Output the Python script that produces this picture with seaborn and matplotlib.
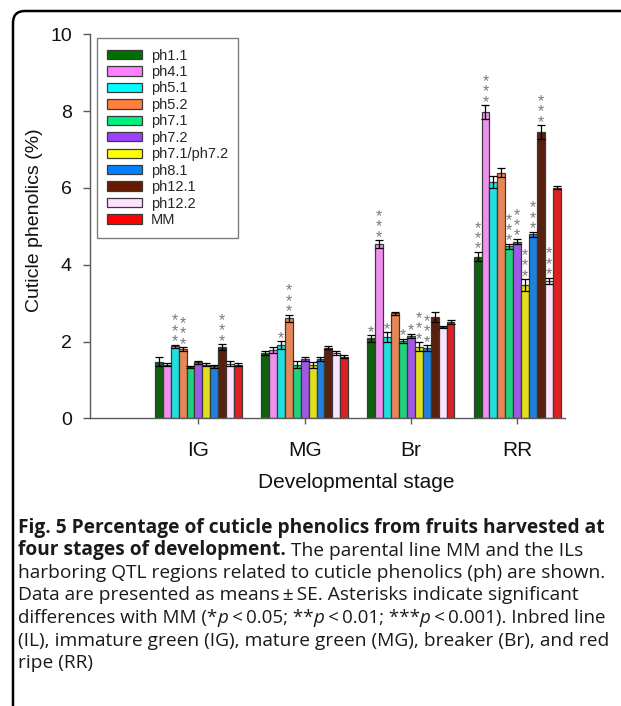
import numpy as np
import pandas as pd
import matplotlib
matplotlib.use("Agg")
import matplotlib.pyplot as plt
import seaborn as sns
from matplotlib.patches import FancyBboxPatch, Patch
from matplotlib.transforms import IdentityTransform

# ---------------- data ----------------
stages = ["IG", "MG", "Br", "RR"]
lines = ["ph1.1", "ph4.1", "ph5.1", "ph5.2", "ph7.1", "ph7.2",
         "ph7.1/ph7.2", "ph8.1", "ph12.1", "ph12.2", "MM"]
colors = ["#007000", "#FF80FF", "#00FFFF", "#FF7F3F", "#00F080", "#A040FF",
          "#FFFF00", "#0080FF", "#661A00", "#FFE0FF", "#FF0000"]

vals_IG = [1.47, 1.40, 1.88, 1.80, 1.33, 1.46, 1.40, 1.36, 1.85, 1.42, 1.39]
vals_MG = [1.69, 1.78, 1.91, 2.60, 1.40, 1.54, 1.39, 1.54, 1.84, 1.69, 1.60]
vals_Br = [2.08, 4.54, 2.12, 2.73, 2.02, 2.15, 1.86, 1.82, 2.63, 2.37, 2.50]
vals_RR = [4.21, 7.97, 6.15, 6.40, 4.48, 4.60, 3.47, 4.79, 7.45, 3.58, 6.01]

err_IG = [0.12, 0.05, 0.04, 0.05, 0.03, 0.04, 0.03, 0.04, 0.08, 0.06, 0.04]
err_MG = [0.05, 0.07, 0.10, 0.10, 0.08, 0.05, 0.07, 0.05, 0.04, 0.05, 0.04]
err_Br = [0.08, 0.10, 0.12, 0.03, 0.05, 0.05, 0.12, 0.08, 0.13, 0.03, 0.05]
err_RR = [0.12, 0.18, 0.15, 0.12, 0.06, 0.07, 0.15, 0.07, 0.18, 0.08, 0.04]

sig_IG = ["", "", "***", "***", "", "", "", "", "***", "", ""]
sig_MG = ["", "", "*", "***", "", "", "", "", "", "", ""]
sig_Br = ["*", "***", "*", "", "*", "*", "***", "***", "", "", ""]
sig_RR = ["***", "***", "", "", "***", "***", "***", "***", "***", "***", ""]

values = [vals_IG, vals_MG, vals_Br, vals_RR]
errors = [err_IG, err_MG, err_Br, err_RR]
sigs = [sig_IG, sig_MG, sig_Br, sig_RR]

rows = []
for si, st in enumerate(stages):
    for li, ln in enumerate(lines):
        rows.append({"stage": st, "line": ln, "value": values[si][li],
                     "err": errors[si][li], "sig": sigs[si][li]})
df = pd.DataFrame(rows)

# ---------------- figure ----------------
W, H = 621, 706
fig = plt.figure(figsize=(W / 100, H / 100), dpi=100)
sns.set_style("ticks")
plt.rcParams['font.family'] = ['Liberation Sans', 'DejaVu Sans']

ax = fig.add_axes([90 / W, 1 - 418.3 / H, (565 - 90) / W, (418.3 - 34.3) / H])

sns.barplot(data=df, x="stage", y="value", hue="line", order=stages,
            hue_order=lines, palette=colors, errorbar=None, width=0.82,
            gap=0, edgecolor="#3a3a3a", linewidth=0.9, ax=ax, legend=False)

bar_containers = list(ax.containers)
for li, cont in enumerate(bar_containers):
    sub = df[df["line"] == lines[li]].set_index("stage").loc[stages]
    for bar, (_, r) in zip(cont.patches, sub.iterrows()):
        xc = bar.get_x() + bar.get_width() / 2
        top = bar.get_height()
        ax.errorbar(xc, top, yerr=r["err"], fmt="none", ecolor="black",
                    elinewidth=0.9, capsize=2.6, capthick=0.9, zorder=5)
        if r["sig"]:
            txt = "\n".join(list(r["sig"]))
            ax.text(xc, top + r["err"] - 0.12, txt,
                    ha="center", va="bottom", fontsize=11.5, linespacing=0.62,
                    color="#7a7a7a", zorder=6)

ax.set_ylim(0, 10)
ax.set_xlim(-1.02, 3.45)
ax.set_yticks([0, 2, 4, 6, 8, 10])
ax.set_xlabel("")
ax.set_ylabel("")
for s in ["top", "right"]:
    ax.spines[s].set_visible(False)
for s in ["left", "bottom"]:
    ax.spines[s].set_color("#5a5a5a")
    ax.spines[s].set_linewidth(1.0)
ax.tick_params(axis="y", direction="out", length=5, width=1, color="#5a5a5a",
               labelsize=14, pad=8, labelcolor="#111111")
ax.tick_params(axis="x", direction="out", length=4, width=1, color="#5a5a5a",
               labelsize=15, pad=12, labelcolor="#111111")
ax.set_facecolor("white")

handles = [Patch(facecolor=c, edgecolor="#3a3a3a", linewidth=0.9) for c in colors]
leg = ax.legend(handles, lines, loc="upper left", bbox_to_anchor=(7 / 475, 1 - 4 / 384),
                frameon=True, fancybox=False, edgecolor="#5a5a5a",
                prop={"family": ["Liberation Sans"], "size": 10.5},
                handlelength=2.4, handleheight=0.62, labelspacing=0.17,
                handletextpad=0.6, borderpad=0.7, borderaxespad=0.0)
leg.get_frame().set_linewidth(1.0)

fig.text(35 / W, 1 - 220 / H, "Cuticle phenolics (%)", rotation=90,
         ha="center", va="center", fontsize=14, color="#111111")
fig.text(356 / W, 1 - 482 / H, "Developmental stage", ha="center",
         va="center", fontsize=15, color="#111111")

# ---------------- outer rounded frame ----------------
frame = FancyBboxPatch((13, -60), 700, 695 - (-60),
                       boxstyle="round,pad=0,rounding_size=12",
                       transform=IdentityTransform(), fill=False,
                       edgecolor="black", linewidth=1.8, clip_on=False)
fig.patches.append(frame)

# ---------------- caption ----------------
renderer = fig.canvas.get_renderer()
cap_fam = ["Open Sans", "DejaVu Sans"]
x0 = 18


def width_px(s, size, weight="normal", style="normal"):
    t = fig.text(0, 0, s, fontsize=size, fontweight=weight, fontstyle=style,
                 family=cap_fam)
    w = t.get_window_extent(renderer).width
    t.remove()
    return w


def adv(s, size, weight="normal"):
    # advance width including trailing spaces
    return width_px(s + "|", size, weight) - width_px("|", size, weight)


def fit_size(s, target, weight="normal"):
    return 10 * target / width_px(s, 10, weight)


bold_size = fit_size("Fig. 5 Percentage of cuticle phenolics from fruits harvested at", 587, "bold")
norm_size = fit_size("harboring QTL regions related to cuticle phenolics (ph) are shown.", 588)


def draw_line(baseline_px, segs, target=None):
    scale = 1.0
    if target is not None:
        tot = sum(adv(s, bold_size if w == "bold" else norm_size, w) for s, w, _ in segs)
        scale = min(1.0, target / tot)
    x = x0
    for s, w, st in segs:
        size = (bold_size if w == "bold" else norm_size) * scale
        lead = len(s) - len(s.lstrip(" "))
        body = s.lstrip(" ")
        if lead:
            x += adv(" " * lead, size, w)
        fig.text(x / W, 1 - baseline_px / H, body, fontsize=size, fontweight=w,
                 fontstyle=st, family=cap_fam, ha="left", va="baseline",
                 color="#1a1a1a")
        x += adv(body, size, w)


N, B, I = "normal", "bold", "italic"
cap_lines = [
    [("Fig. 5 Percentage of cuticle phenolics from fruits harvested at", B, N)],
    [("four stages of development.", B, N), (" The parental line MM and the ILs", N, N)],
    [("harboring QTL regions related to cuticle phenolics (ph) are shown.", N, N)],
    [("Data are presented as means\u2009\u00b1\u2009SE. Asterisks indicate significant", N, N)],
    [("differences with MM (*", N, N), ("p", N, I), ("\u2009<\u20090.05; **", N, N),
     ("p", N, I), ("\u2009<\u20090.01; ***", N, N), ("p", N, I),
     ("\u2009<\u20090.001). Inbred line", N, N)],
    [("(IL), immature green (IG), mature green (MG), breaker (Br), and red", N, N)],
    [("ripe (RR)", N, N)],
]
targets = [None, None, None, None, 587, None, None]
for i, segs in enumerate(cap_lines):
    draw_line(533 + 22.5 * i, segs, targets[i])

fig.savefig("out.png", dpi=100, facecolor="white")
